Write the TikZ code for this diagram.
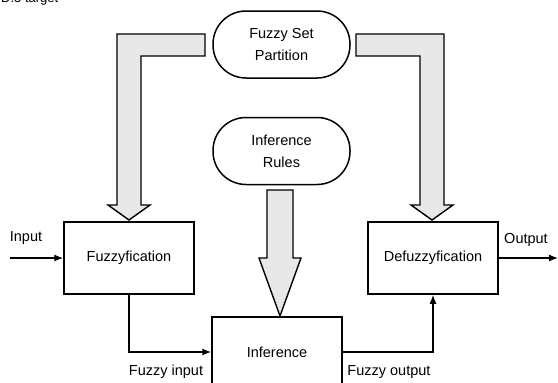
\documentclass[tikz,border=0pt]{standalone}
\usepackage{fontspec}
\setmainfont{Liberation Sans}
\usetikzlibrary{arrows.meta}
\definecolor{bigfill}{HTML}{E8E8E8}
\tikzset{
  lbl/.style={font=\fontsize{14.5}{18}\selectfont, inner sep=0pt},
  stad/.style={draw, line width=1.5pt, rounded corners=33pt, minimum width=137pt, minimum height=67pt, align=center, font=\fontsize{14.5}{22}\selectfont},
  blk/.style={draw, line width=1.5pt, minimum width=130pt, minimum height=72pt, font=\fontsize{14.5}{18}\selectfont},
  bigarrow/.style={draw, line width=1.4pt, fill=bigfill, line join=miter},
  conn/.style={line width=1.3pt, -{Latex[length=9pt,width=7pt]}}
}
\begin{document}
\begin{tikzpicture}[x=1pt,y=-1pt]
\useasboundingbox (0,0) rectangle (558,383);
\clip (0,0) rectangle (558,383);
\node[lbl, font=\fontsize{13}{15}\selectfont, anchor=base west] (tgt) at (1,2) {D.3 target};
% rounded nodes
\node[stad] (fsp) at (281.5,44.5) {Fuzzy Set\\Partition};
\node[stad] (ir) at (281.5,151) {Inference\\Rules};
% blocks
\node[blk] (fuzz) at (129,258) {Fuzzyfication};
\node[blk] (defuzz) at (433,258) {Defuzzyfication};
\node[blk, minimum height=70pt] (inf) at (277,352) {Inference};
% wide arrows
\draw[bigarrow] (205,34) -- (117,34) -- (117,205) -- (108,205) -- (129,220) -- (150,205) -- (141,205) -- (141,56) -- (205,56) -- cycle;
\draw[bigarrow] (356,34) -- (444,34) -- (444,205) -- (453,205) -- (432,220) -- (411,205) -- (420,205) -- (420,56) -- (356,56) -- cycle;
\draw[bigarrow] (267,190) -- (293,190) -- (293,258) -- (301,258) -- (280,316) -- (259,258) -- (267,258) -- cycle;
% connectors
\coordinate (in) at (10,258);
\coordinate (out) at (558,258);
\draw[conn] (in) -- (fuzz.west);
\draw[conn] (defuzz.east) -- (out);
\draw[conn] (fuzz.south) |- (inf.west);
\draw[conn] (inf.east) -| (defuzz.south);
% labels
\node[lbl] (linput) at (26,238) {Input};
\node[lbl] (loutput) at (526,240) {Output};
\node[lbl] (lfin) at (166,372) {Fuzzy input};
\node[lbl] (lfout) at (389,372) {Fuzzy output};
\end{tikzpicture}
\end{document}
